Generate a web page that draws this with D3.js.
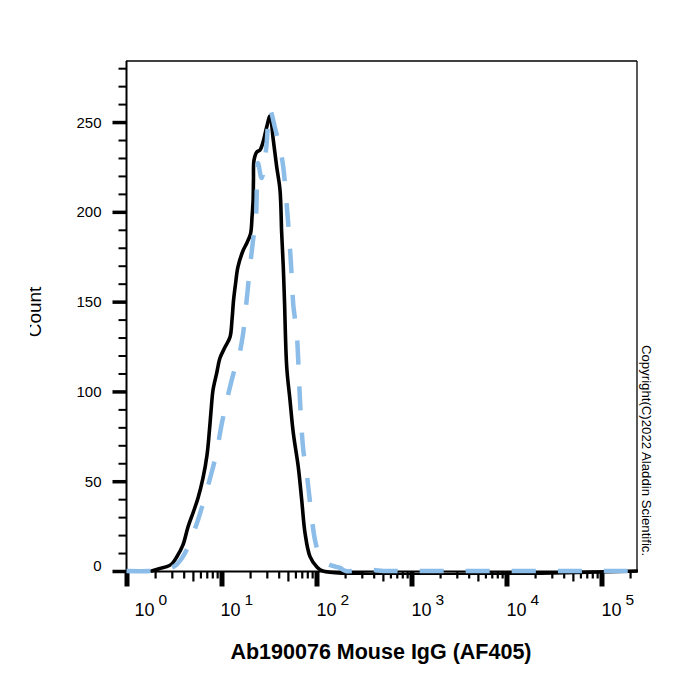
<!DOCTYPE html>
<html><head><meta charset="utf-8">
<script src="https://cdn.jsdelivr.net/npm/d3@7/dist/d3.min.js"></script>
<style>
html,body{margin:0;padding:0;background:#fff;}
text{font-family:"Liberation Sans",Arial,sans-serif;}
</style></head>
<body>
<svg id="chart" width="700" height="700"></svg>
<script>
// ---- data ----
const blackX = [1.84,2.25,2.65,2.99,3.38,3.93,4.44,5.01,5.66,6.39,7.04,7.47,7.85,8.14,8.90,9.64,10.9,12.3,12.9,13.4,14.0,14.9,16.8,18.5,20.2,21.0,21.5,21.7,22.0,23.5,25.4,27.2,29.9,32.4,35.1,38.1,41.3,43.0,44.7,46.0,48.6,52.6,57.0,64.3,69.9,75.7,85.5,100.5,117,236500];
const blackY = [0,1.4,2.4,3.9,7.8,14.5,24.5,32.3,40.6,51.8,64.6,78.5,92.4,100.8,110.2,118.6,124.7,130.3,139.8,150.9,159.2,169.3,178.2,182.7,187.7,197.7,206.0,217.7,228.8,233.3,234.4,238.3,247.2,253.3,240.0,225.1,212.1,188.2,169.3,150.9,113.6,95.2,76.8,57.9,39.5,21.2,8.0,2.4,0,0];
const blueX = [1,1.77,2.25,2.73,3.24,3.84,4.44,5.52,6.54,7.75,8.75,10.1,11.4,13.4,15.1,16.8,18.4,19.95,21.5,23.1,24.2,26.4,29.4,32.4,36.6,41.3,44.7,48.6,51.4,54.8,57.0,61.9,64.7,67.0,72.6,78.8,89.0,96.4,108.8,128,149,177,204,309,393,501,639,236500];
const blueY = [0,0,0.6,1.4,2.8,7.2,13.4,26.7,39.5,53.5,64.6,82.4,95.2,110.2,118.6,131.4,150.9,169.3,184.3,197.7,227.2,218.8,234.4,256.7,246.7,235.5,224.9,203.8,187.1,164.8,148.1,132.5,113.6,95.2,67.4,54.6,30.2,17.3,8.0,4.3,2.8,1.7,0,0.6,0.6,0,0,0];
const yMajorTicks = [0,50,100,150,200,250];
const yMinorTicks = [10,20,30,40,60,70,80,90,110,120,130,140,160,170,180,190,210,220,230,240,260,270,280];
const xMajorTicks = [1,10,100,1000,10000,100000];
const xMinorTicks = [];
for (let d = 1; d <= 100000; d *= 10) for (let m = 2; m <= 9; m++) if (d*m < 236500) xMinorTicks.push(d*m);
const xTickExponents = ["0","1","2","3","4","5"];
const xLabelShift = [8,-1,0,0,0,0];
const xTitle = "Ab190076 Mouse IgG (AF405)";
const yTitle = "Count";
const copyright = "Copyright(C)2022 Aladdin Scientific.";

// ---- scales ----
const svg = d3.select("#chart");
const x = d3.scaleLog().domain([1, 236500]).range([126.5, 637]);
const y = d3.scaleLinear().domain([0, 284]).range([571, 61]);

// clip for curves
svg.append("defs").append("clipPath").attr("id","plotclip")
  .append("rect").attr("x",126).attr("y",55).attr("width",512).attr("height",520);
svg.select("defs").append("clipPath").attr("id","ylabclip")
  .append("rect").attr("x",30).attr("y",0).attr("width",100).attr("height",700);

// frame (top & right)
svg.append("line").attr("x1",126).attr("x2",637).attr("y1",61).attr("y2",61).attr("stroke","#000").attr("stroke-width",1.3);
svg.append("line").attr("x1",637).attr("x2",637).attr("y1",61).attr("y2",572).attr("stroke","#000").attr("stroke-width",1.3);

// y axis
const yAxisG = svg.append("g").attr("transform","translate(126.5,0)");
yAxisG.append("g").call(d3.axisLeft(y).tickValues(yMinorTicks).tickSize(8).tickFormat(""))
  .call(g=>g.select(".domain").remove())
  .call(g=>g.selectAll(".tick line").attr("stroke-width",2));
const yMaj = yAxisG.append("g").call(d3.axisLeft(y).tickValues(yMajorTicks).tickSize(14).tickPadding(11).tickFormat(d3.format("d")))
  .call(g=>g.select(".domain").remove())
  .call(g=>g.selectAll(".tick line").attr("stroke-width",3.5));
yMaj.selectAll(".tick text").attr("font-size",15).attr("fill","#000")
  .attr("font-family","'Liberation Sans',Arial,sans-serif")
  .attr("dy", d => d === 0 ? "-0.05em" : "0.33em");
svg.append("line").attr("x1",126.5).attr("x2",126.5).attr("y1",61).attr("y2",572.5).attr("stroke","#000").attr("stroke-width",2);

// x axis
const xAxisG = svg.append("g").attr("transform","translate(0,571.5)");
xAxisG.append("g").call(d3.axisBottom(x).tickValues(xMinorTicks).tickSize(7).tickFormat(""))
  .call(g=>g.select(".domain").remove())
  .call(g=>g.selectAll(".tick line").attr("stroke-width",2.2)
     .attr("y2", d => (String(d)[0]==="5") ? 10 : 7));
xAxisG.append("g").call(d3.axisBottom(x).tickValues(xMajorTicks).tickSize(15).tickFormat(""))
  .call(g=>g.select(".domain").remove())
  .call(g=>g.selectAll(".tick line").attr("stroke-width",5));
svg.append("line").attr("x1",126).attr("x2",637).attr("y1",571.5).attr("y2",571.5).attr("stroke","#000").attr("stroke-width",2);

// x tick labels with superscripts
xMajorTicks.forEach((v,i)=>{
  const t = svg.append("text").attr("x", x(v)+xLabelShift[i]).attr("y",616)
    .attr("font-size",18).attr("fill","#000");
  t.append("tspan").text("10");
  t.append("tspan").attr("dx",4).attr("dy",-11).attr("font-size",15.5).text(xTickExponents[i]);
});

// curves
const line = d3.line().x(d=>x(d[0])).y(d=>y(d[1])).curve(d3.curveCatmullRom.alpha(0.5));
const plot = svg.append("g").attr("clip-path","url(#plotclip)");
plot.append("path").datum(blackX.map((v,i)=>[v,blackY[i]]))
  .attr("d",line).attr("fill","none").attr("stroke","#000").attr("stroke-width",3.6)
  .attr("stroke-linejoin","round").attr("stroke-linecap","round");
plot.append("path").datum(blueX.map((v,i)=>[v,blueY[i]]))
  .attr("d",line).attr("fill","none").attr("stroke","#8BBDE8").attr("stroke-width",4.5)
  .attr("stroke-dasharray","24,22").attr("stroke-linejoin","round");

// titles
svg.append("text").attr("x",381).attr("y",659).attr("text-anchor","middle")
  .attr("font-size",21.5).attr("font-weight","bold").attr("fill","#000").text(xTitle);
svg.append("g").attr("clip-path","url(#ylabclip)")
  .append("text").attr("transform","translate(41,312) rotate(-90)").attr("text-anchor","middle")
  .attr("font-size",19).attr("fill","#000").text(yTitle);
svg.append("text").attr("transform","translate(642,345) rotate(90)")
  .attr("font-size",13.2).attr("fill","#000").text(copyright);
</script>
</body></html>
